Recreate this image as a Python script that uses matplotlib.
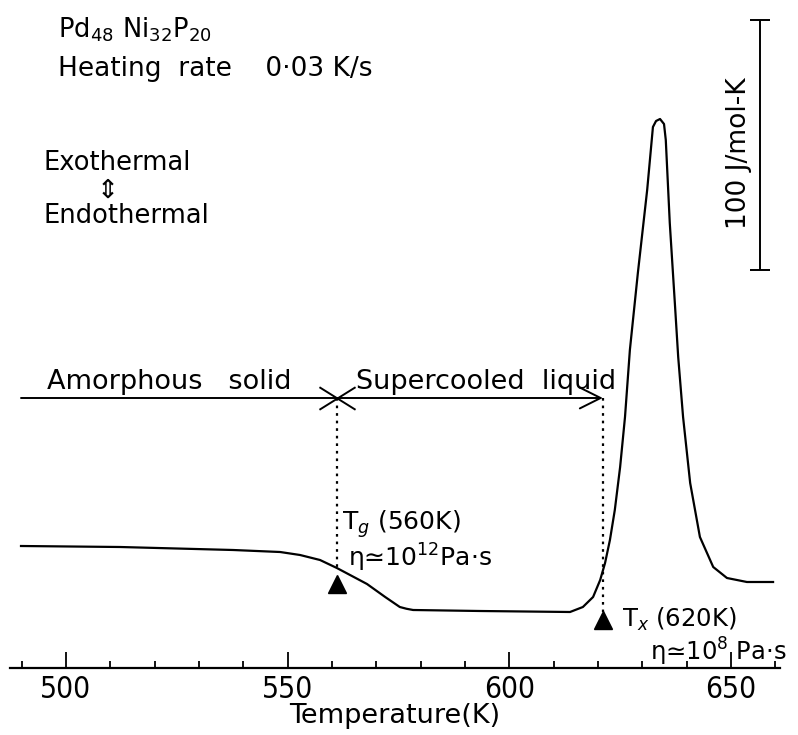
import matplotlib
matplotlib.use("Agg")
import matplotlib.pyplot as plt
from matplotlib.ticker import MultipleLocator, FixedLocator
from matplotlib.path import Path

# ---- data ----
temperature = [489.85, 512.2, 537.7, 548.3, 552.8, 557.3, 561.1, 564.5, 567.9, 572.0,
               575.3, 576.8, 578.3, 593.4, 613.7, 616.6, 618.9, 620.5, 621.6, 622.7,
               623.8, 625.0, 626.1, 627.2, 629.0, 631.1, 632.4, 633.1, 634.0, 634.9,
               635.3, 636.2, 637.4, 638.1, 639.2, 640.8, 643.0, 646.0, 649.1, 653.6, 659.5]
heat_flow = [26.0, 25.6, 24.4, 23.6, 22.4, 20.4, 17.2, 14.0, 10.8, 5.6,
             1.6, 0.9, 0.4, 0.0, -0.4, 1.6, 5.6, 12.4, 19.2, 28.4,
             40.4, 57.6, 77.6, 104.4, 135.2, 168.4, 193.6, 196.0, 196.8, 194.8,
             188.4, 155.2, 121.6, 101.6, 77.6, 51.2, 29.6, 17.6, 13.2, 11.6, 11.6]

transition_T = [561.1, 621.1]          # Tg, Tx markers
transition_level = [10.8, -3.6]        # triangle heights
transition_curve = [17.2, -0.4]        # where dotted lines end
phase_level = 85.2                     # level of the phase arrows
phase_start = 489.85
scale_bar_T = 656.55
scale_bar_base = 136.4
scale_bar_value = 100                  # J/mol-K

major_ticks = [500, 550, 600, 650]
tick_labels = ["500", "550", "600", "650"]

# ---- pixel helpers for placing text ----
X0, KX = 66.0, 4.433
def dx(px):
    return 500 + (px - X0) / KX
def dy(py):
    return (611 - py) / 2.5

W, H = 798, 735
fig = plt.figure(figsize=(W / 100, H / 100), dpi=100)
ax = fig.add_axes([10 / W, (H - 668) / H, 770 / W, 668 / H])
ax.set_xlim(dx(10), dx(780))
ax.set_ylim(dy(668), dy(0))
ax.patch.set_alpha(0)

for s in ["top", "left", "right"]:
    ax.spines[s].set_visible(False)
ax.spines["bottom"].set_linewidth(1.6)
ax.set_yticks([])

ax.xaxis.set_major_locator(FixedLocator(major_ticks))
ax.set_xticklabels(tick_labels, family="DejaVu Sans", fontstretch="condensed", fontsize=21.5)
ax.xaxis.set_minor_locator(MultipleLocator(10))
ax.tick_params(axis="x", which="major", direction="in", length=11.5, width=1.3, pad=5)
ax.tick_params(axis="x", which="minor", direction="in", length=5, width=1.3)
ax.set_xlabel("Temperature(K)", fontsize=19.5, labelpad=-1)

# DSC curve
ax.plot(temperature, heat_flow, color="black", lw=1.6, solid_joinstyle="round")

# markers
ax.plot(transition_T, transition_level, ls="none", marker="^", ms=13, color="black")

# dotted lines
for t, c in zip(transition_T, transition_curve):
    ax.plot([t, t], [phase_level, c], ls=(0, (1.2, 2.2)), lw=1.6, color="black")

# phase arrow
ax.annotate("", xy=(transition_T[1], phase_level), xytext=(phase_start, phase_level),
            arrowprops=dict(arrowstyle="->,head_length=1.5,head_width=0.75",
                            lw=1.4, color="black", mutation_scale=10,
                            shrinkA=0, shrinkB=0))
cross = Path([(-1.6, -1), (1.6, 1), (-1.6, 1), (1.6, -1)],
             [Path.MOVETO, Path.LINETO, Path.MOVETO, Path.LINETO])
ax.plot([transition_T[0]], [phase_level], marker=cross, ms=26, mew=1.4,
        color="black", ls="none")

# scale bar
ax.errorbar([scale_bar_T], [scale_bar_base + scale_bar_value / 2],
            yerr=[[scale_bar_value / 2], [scale_bar_value / 2]],
            color="black", lw=1.4, capsize=7.2, capthick=1.4)
ax.text(dx(739), dy(153), "100 J/mol-K", rotation=90, ha="center", va="center",
        fontsize=19)

# texts
ax.text(dx(58), dy(38), r"Pd$_{48}$ Ni$_{32}$P$_{20}$", fontsize=18.5, va="baseline")
ax.text(dx(58), dy(76), "Heating  rate    0·03 K/s", fontsize=19, va="baseline")
ax.text(dx(43), dy(170), "Exothermal", fontsize=18.5, va="baseline")
ax.text(dx(108), dy(191), "⇕", fontsize=19, ha="center", va="center")
ax.text(dx(43), dy(223), "Endothermal", fontsize=18.5, va="baseline")

ax.text(dx(47), dy(389), "Amorphous   solid", fontsize=19.5, va="baseline")
ax.text(dx(356), dy(389), "Supercooled  liquid", fontsize=19.5, va="baseline")

ax.text(dx(342), dy(530), r"T$_g$ (560K)", fontsize=18, va="baseline")
ax.text(dx(348), dy(567), r"η≃10$^{12}$Pa·s", fontsize=18, va="baseline")
ax.text(dx(622), dy(627), r"T$_x$ (620K)", fontsize=17.5, va="baseline")
ax.text(dx(650), dy(661), r"η≃10$^{8}$ Pa·s", fontsize=17.5, va="baseline")

fig.savefig("out.png", dpi=100)
